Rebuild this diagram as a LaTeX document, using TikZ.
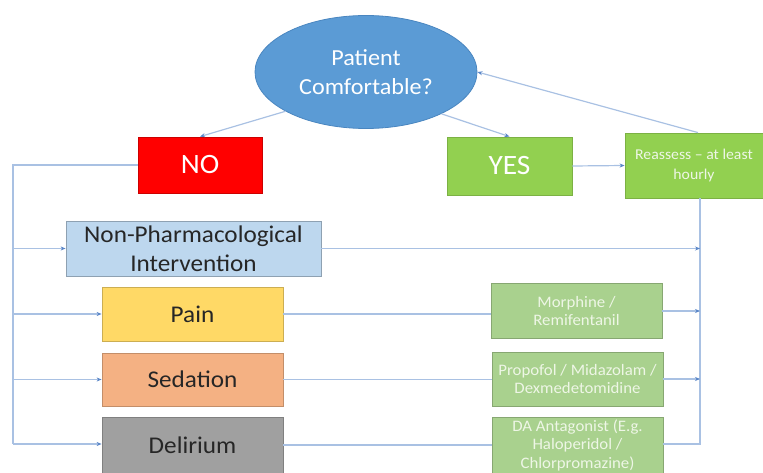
\documentclass[tikz,border=0pt]{standalone}
\usepackage{fontspec}
\setmainfont[FakeStretch=1.05]{Carlito}
\usetikzlibrary{arrows.meta,shapes.geometric,calc}
\definecolor{ellfill}{HTML}{5B9BD5}
\definecolor{ellline}{HTML}{4A86C0}
\definecolor{nofill}{HTML}{FF0000}
\definecolor{yesfill}{HTML}{92D050}
\definecolor{npfill}{HTML}{BDD7EE}
\definecolor{painfill}{HTML}{FFD966}
\definecolor{sedfill}{HTML}{F4B183}
\definecolor{delfill}{HTML}{A0A0A0}
\definecolor{drugfill}{HTML}{A9D18E}
\definecolor{drugtext}{HTML}{EEF6E6}
\definecolor{conn}{HTML}{A9C1E3}
\definecolor{tip}{HTML}{5A86C8}
\definecolor{darktext}{HTML}{262626}
\tikzset{
  box/.style={rectangle, inner sep=1pt, align=center, line width=0.8pt},
  conline/.style={draw=conn, line width=1.2pt},
  arr/.style={conline, -{Stealth[length=5pt,width=4pt,color=tip]}},
  bigtext/.style={font=\fontsize{28}{32}\selectfont, text=white},
  midtext/.style={font=\fontsize{24}{29}\selectfont, text=darktext},
  drugbox/.style={box, fill=drugfill, draw=drugfill!80!black, text=drugtext,
    font=\fontsize{16}{18.5}\selectfont, minimum width=171pt},
}
\begin{document}
\begin{tikzpicture}[x=1pt,y=-1pt]
\useasboundingbox (0,0) rectangle (763,473);
% nodes
\node[ellipse, fill=ellfill, draw=ellline, line width=0.8pt, inner sep=0pt,
  minimum width=222pt, minimum height=113pt, align=center, text=white,
  font=\fontsize{23}{29}\selectfont] (ell) at (366,72) {Patient\\Comfortable?};
\node[box, bigtext, fill=nofill, draw=nofill!80!black, minimum width=124pt, minimum height=56pt] (no) at (200,165) {NO};
\node[box, bigtext, fill=yesfill, draw=yesfill!85!black, minimum width=125pt, minimum height=58pt] (yes) at (509.5,166) {YES};
\node[box, fill=yesfill, draw=yesfill!85!black, minimum width=138pt, minimum height=65pt,
  text=drugtext, font=\fontsize{15}{20}\selectfont] (reass) at (694,165.5) {Reassess -- at least\\hourly};
\node[box, midtext, fill=npfill, draw=npfill!75!black, minimum width=255pt, minimum height=55pt] (np) at (193.5,248.5) {Non-Pharmacological\\Intervention};
\node[box, midtext, fill=painfill, draw=painfill!80!black, minimum width=181pt, minimum height=54pt] (pain) at (192.5,314) {Pain};
\node[box, midtext, fill=sedfill, draw=sedfill!80!black, minimum width=181pt, minimum height=53pt] (sed) at (192.5,379.5) {Sedation};
\node[box, midtext, fill=delfill, draw=delfill!80!black, minimum width=181pt, minimum height=56pt] (del) at (192.5,445) {Delirium};
\node[drugbox, minimum height=55pt] (morph) at (576.5,311) {Morphine /\\Remifentanil};
\node[drugbox, minimum height=54pt] (prop) at (577.5,379) {Propofol / Midazolam /\\Dexmedetomidine};
\node[drugbox, minimum height=56pt] (da) at (577.5,445) {DA Antagonist (E.g.\\Haloperidol /\\Chlorpromazine)};
% helper coordinates
\coordinate (L0) at (13,165);
\coordinate (Lb) at (13,444);
\coordinate (R0) at (700,198);
\coordinate (Rb) at (700,444);
% top connectors
\draw[arr] (ell.206) -- (no.north);
\draw[arr] (ell.-29) -- (yes.north);
\draw[arr] (yes.east) -- (reass.west);
\draw[arr] ([xshift=4pt]reass.north) -- (ell.east);
% left trunk
\draw[conline] (no.west) -- (L0) -- (Lb);
\draw[arr] (L0 |- np.west) -- (np.west);
\draw[arr] (L0 |- pain.west) -- (pain.west);
\draw[arr] (L0 |- sed.west) -- (sed.west);
\draw[arr] (Lb) -- (Lb -| del.west);
% middle lines
\draw[conline] (pain.east) -- (pain.east -| morph.west);
\draw[conline] (sed.east) -- (sed.east -| prop.west);
\draw[conline] (del.east) -- (del.east -| da.west);
% right trunk
\draw[conline] (da.east |- Rb) -- (Rb) -- (R0);
\draw[arr] (np.east) -- (R0 |- np.east);
\draw[arr] (morph.east) -- (R0 |- morph.east);
\draw[arr] (prop.east) -- (R0 |- prop.east);
\end{tikzpicture}
\end{document}
